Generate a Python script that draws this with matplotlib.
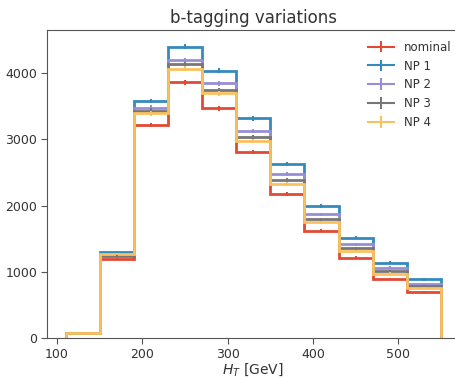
import numpy as np
import matplotlib
matplotlib.use("Agg")
import matplotlib.pyplot as plt

edges = [110, 150, 190, 230, 270, 310, 350, 390, 430, 470, 510, 550]
labels = ["nominal", "NP 1", "NP 2", "NP 3", "NP 4"]
nominal = [71, 1192, 3215, 3859, 3467, 2803, 2169, 1620, 1212, 895, 699]
np1 = [71, 1294, 3577, 4397, 4035, 3316, 2622, 1997, 1514, 1137, 885]
np2 = [71, 1260, 3476, 4196, 3844, 3129, 2475, 1867, 1419, 1061, 820]
np3 = [71, 1245, 3431, 4131, 3743, 3039, 2385, 1792, 1354, 1011, 785]
np4 = [71, 1268, 3391, 4065, 3693, 2978, 2320, 1746, 1313, 971, 759]
series = [nominal, np1, np2, np3, np4]
colors = ["#E24A33", "#348ABD", "#988ED5", "#777777", "#FBC15E"]

fig = plt.figure(figsize=(4.56, 3.78), dpi=100)
ax = fig.add_axes([0.1026, 0.1058, 0.9055, 0.8148])

e = np.array(edges, dtype=float)
centers = 0.5 * (e[:-1] + e[1:])
for vals, c, lab in zip(series, colors, labels):
    v = np.array(vals, dtype=float)
    ax.stairs(v, e, color=c, lw=2)
    ax.errorbar(centers, v, yerr=0.6 * np.sqrt(v), fmt="none", ecolor=c, elinewidth=1.5)
    ax.errorbar([np.nan], [np.nan], yerr=[np.nan], color=c, label=lab, lw=1.5)

ax.set_xlim(88, 572)
ax.set_ylim(0, 4650)
ax.set_xticks([100, 200, 300, 400, 500])
ax.set_yticks([0, 1000, 2000, 3000, 4000])
for s in ["top", "left", "bottom", "right"]:
    ax.spines[s].set_color("#555555")
ax.tick_params(colors="#555555", labelcolor="#333333", labelsize=9, direction="out", length=4, pad=3)
ax.set_title("b-tagging variations", fontsize=12, color="#333333", pad=5)
ax.set_xlabel("$H_T$ [GeV]", fontsize=10, color="#333333", labelpad=0.5)
leg = ax.legend(loc="upper right", frameon=False, fontsize=8.5, bbox_to_anchor=(1.005, 1.0),
                labelspacing=0.5, handlelength=2.2, handletextpad=0.8)
for t in leg.get_texts():
    t.set_color("#333333")

fig.savefig("out.png", dpi=100)
